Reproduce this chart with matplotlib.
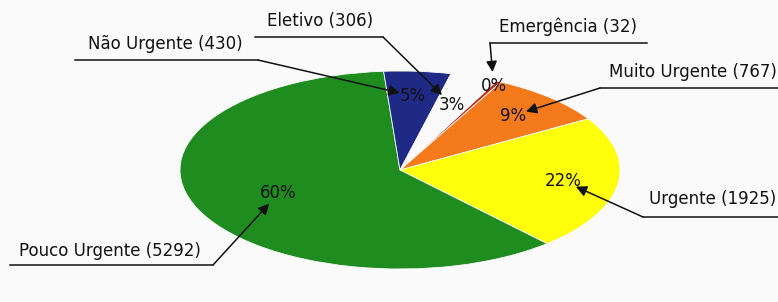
import matplotlib
matplotlib.use("Agg")
import matplotlib.pyplot as plt
import numpy as np
from matplotlib.lines import Line2D

W, H = 778, 302
BG = "#fafafa"

# data (clockwise from the top)
categories = ["Emergência", "Muito Urgente", "Urgente", "Pouco Urgente", "Não Urgente", "Eletivo"]
counts = [32, 767, 1925, 5292, 430, 306]
colors = ["#c62a1f", "#f47a1c", "#ffff0a", "#1e8c1e", "#1f2a86", BG]

# label layout in pixels: text centre, underline y, underline x-range (far end, corner)
label_xy = [(568, 27), (693, 72), (713, 199), (110, 251), (165, 44), (320, 21)]
line_y = [43, 88, 217, 265, 60, 37]
line_x = [(647, 490), (778, 600), (778, 643), (10, 213), (75, 258), (255, 383)]
pct_r = [0.95, 0.75, 0.75, 0.6, 0.75, 0.7]

plt.rcParams["font.family"] = ["DejaVu Sans"]
FS = 12


def fpos(x, y):
    return x / W, 1 - y / H


fig = plt.figure(figsize=(W / 100, H / 100), dpi=100)
fig.patch.set_facecolor(BG)
ax = fig.add_axes([0, 0, 1, 1])
ax.set_facecolor(BG)

wedges, texts, autotexts = ax.pie(
    counts, colors=colors, startangle=64, counterclock=False,
    autopct=lambda p: f"{p:.0f}%", pctdistance=0.75,
    wedgeprops=dict(linewidth=0.6, edgecolor=BG),
    textprops=dict(fontsize=FS, color="#111111"),
)

# squash into the flat perspective of the original
ax.set_aspect("auto")
ax.set_xlim(-400 / 220, 378 / 220)
ax.set_ylim(-132 / 99, 170 / 99)
ax.axis("off")

for i, (w, t) in enumerate(zip(wedges, autotexts)):
    mid = np.deg2rad((w.theta1 + w.theta2) / 2)
    tip = (pct_r[i] * np.cos(mid), pct_r[i] * np.sin(mid))
    t.set_position(tip)

    lx, ly = label_xy[i]
    fig.text(*fpos(lx, ly), f"{categories[i]} ({counts[i]})",
             ha="center", va="center", fontsize=FS, color="#111111")
    x0, x1 = line_x[i]
    fig.add_artist(Line2D([x0 / W, x1 / W], [1 - line_y[i] / H] * 2,
                          transform=fig.transFigure, color="#111111", lw=1.1))
    ax.annotate("", xy=tip, xycoords="data",
                xytext=fpos(x1, line_y[i]), textcoords="figure fraction",
                arrowprops=dict(arrowstyle="-|>", color="#111111", lw=1.1,
                                shrinkA=0, shrinkB=10, mutation_scale=16))

fig.savefig("out.png", dpi=100, facecolor=BG)
